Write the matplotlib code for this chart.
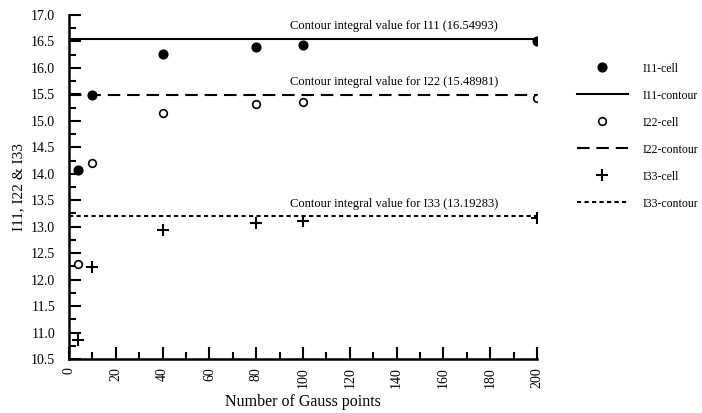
import matplotlib
matplotlib.use("Agg")
import matplotlib.pyplot as plt
from matplotlib.ticker import MultipleLocator, FormatStrFormatter

plt.rcParams['font.family'] = ['Liberation Serif', 'DejaVu Serif']

gauss_points = [4, 10, 40, 80, 100, 200]
i11_cell = [14.08, 15.48, 16.26, 16.40, 16.44, 16.50]
i22_cell = [12.30, 14.20, 15.14, 15.32, 15.36, 15.44]
i33_cell = [10.86, 12.23, 12.94, 13.07, 13.11, 13.16]
i11_contour = 16.54993
i22_contour = 15.48981
i33_contour = 13.19283

fig = plt.figure(figsize=(7.02, 4.13), dpi=100)
ax = fig.add_axes([0.0983, 0.1308, 0.6667, 0.8329])

lw = 1.5
ax.plot(gauss_points, i11_cell, 'o', color='black', markersize=6.3, linestyle='none', label='I11-cell')
ax.axhline(i11_contour, color='black', lw=lw, label='I11-contour')
ax.plot(gauss_points, i22_cell, 'o', markerfacecolor='white', markeredgecolor='black',
        markeredgewidth=1.2, markersize=5.5, linestyle='none', label='I22-cell')
ax.axhline(i22_contour, color='black', lw=lw, dashes=(6, 3.3), label='I22-contour')
ax.plot(gauss_points, i33_cell, '+', color='black', markersize=8, markeredgewidth=1.5,
        linestyle='none', label='I33-cell')
ax.axhline(i33_contour, color='black', lw=lw, dashes=(2, 1.6), label='I33-contour')

for val, name in [(i11_contour, 'I11'), (i22_contour, 'I22'), (i33_contour, 'I33')]:
    ax.text(139, val + 0.13, f'Contour integral value for {name} ({val:.5f})',
            ha='center', va='bottom', fontsize=9)

ax.set_xlim(0, 200)
ax.set_ylim(10.5, 17.0)
ax.xaxis.set_major_locator(MultipleLocator(20))
ax.xaxis.set_minor_locator(MultipleLocator(10))
ax.yaxis.set_major_locator(MultipleLocator(0.5))
ax.yaxis.set_minor_locator(MultipleLocator(0.25))
ax.yaxis.set_major_formatter(FormatStrFormatter('%.1f'))

for s in ['top', 'right']:
    ax.spines[s].set_visible(False)
for s in ['left', 'bottom']:
    ax.spines[s].set_linewidth(1.8)

ax.tick_params(axis='both', which='major', direction='in', length=8.5, width=1.5, labelsize=10)
ax.tick_params(axis='both', which='minor', direction='in', length=5, width=1.5)
ax.tick_params(axis='y', which='major', pad=10)
ax.tick_params(axis='x', which='major', pad=6, labelrotation=90)

ax.set_xlabel('Number of Gauss points', fontsize=11.5)
ax.set_ylabel('I11, I22 & I33', fontsize=11)

handles, labels = ax.get_legend_handles_labels()
leg = fig.legend(handles, labels, loc='upper left', bbox_to_anchor=(0.815, 0.86),
                 frameon=False, fontsize=8.5, handlelength=4.3, handletextpad=1.25,
                 labelspacing=1.27, borderaxespad=0)

fig.savefig('out.png', dpi=100)
